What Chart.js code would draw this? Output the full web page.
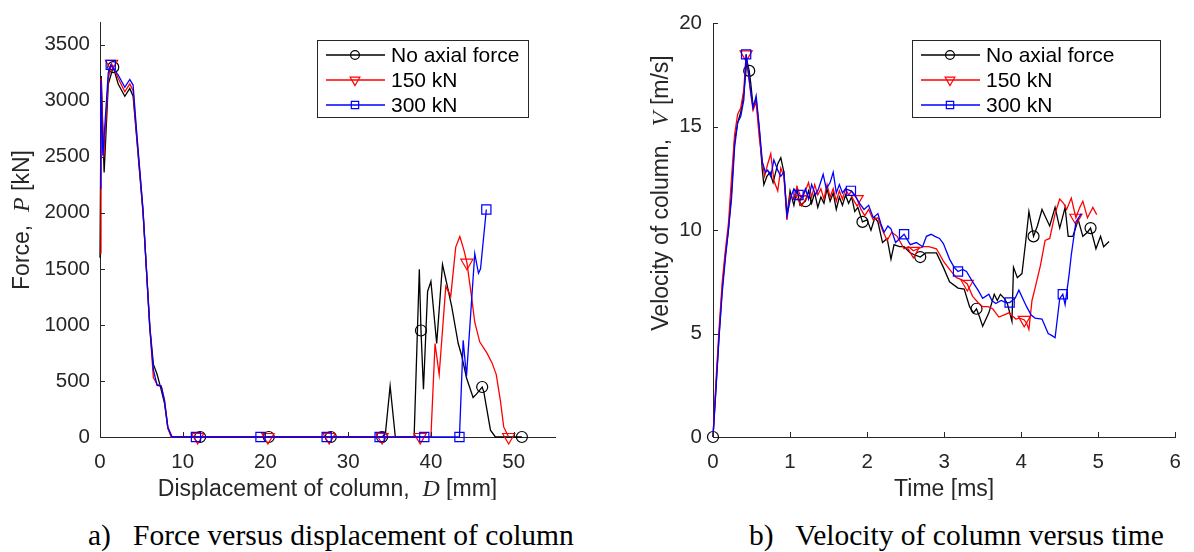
<!DOCTYPE html>
<html>
<head>
<meta charset="utf-8">
<script src="https://cdn.jsdelivr.net/npm/chart.js"></script>
<style>
  body { margin: 0; background: #fff; width: 1194px; height: 552px; position: relative; overflow: hidden; }
  #forceChart { position: absolute; left: 0; top: 0; }
  #velChart { position: absolute; left: 600px; top: 0; }
  .cap { position: absolute; top: 517px; font-family: "Liberation Serif", "Times New Roman", serif; font-size: 29.5px; line-height: 36px; white-space: pre; color: #000; }
</style>
</head>
<body>
<canvas id="forceChart" width="570" height="500"></canvas>
<canvas id="velChart" width="594" height="500"></canvas>
<div class="cap" style="left:88px">a)   Force versus displacement of column</div>
<div class="cap" style="left:749px">b)   Velocity of column versus time</div>
<script>
// ---- a) force vs displacement ----
const seriesNames = ["No axial force", "150 kN", "300 kN"];
const dispTicks = [0, 10, 20, 30, 40, 50];
const forceTicks = [0, 500, 1000, 1500, 2000, 2500, 3000, 3500];

const dispBlack = [0, 0.15, 0.5, 1.0, 1.6, 2.2, 3.0, 3.6, 4.0, 4.4, 5.2, 6.05, 6.45, 6.9, 7.3, 7.8, 8.2, 8.7, 12.1, 20.4, 27.9, 34.1, 34.5, 35.07, 35.7, 37.97, 38.6, 38.8, 39.1, 39.6, 40.0, 40.7, 41.4, 41.9, 42.5, 43.3, 43.7, 44.3, 45.1, 45.5, 46.2, 46.4, 47.2, 47.8, 51.0];
const forceBlack = [1600, 3220, 2360, 3150, 3300, 3150, 3040, 3110, 3040, 2700, 2000, 965, 650, 560, 450, 300, 80, 0, 0, 0, 0, 0, 30, 455, 0, 0, 1496, 950, 426, 1300, 1388, 834, 1540, 1374, 1170, 834, 732, 528, 353, 382, 446, 400, 61, 0, 0];
const markDispBlack = [1.6, 12.1, 20.4, 27.9, 34.1, 38.8, 46.2, 51.0];

const dispRed = [0, 0.12, 0.45, 1.0, 1.4, 2.2, 3.0, 3.6, 4.0, 4.4, 5.2, 6.0, 6.45, 6.9, 7.4, 7.8, 8.2, 8.6, 11.8, 20.3, 27.7, 34.1, 38.7, 40.0, 40.5, 41.0, 41.8, 42.4, 43.0, 43.5, 44.0, 44.35, 44.9, 45.3, 45.9, 46.8, 47.4, 47.9, 48.4, 48.8, 49.4];
const forceRed = [1640, 3200, 2490, 3200, 3330, 3200, 3080, 3150, 3090, 2720, 2020, 1000, 530, 470, 455, 330, 80, 0, 0, 0, 0, 0, 0, 0, 834, 557, 1344, 1257, 1694, 1788, 1665, 1555, 1257, 1024, 849, 746, 659, 557, 324, 90, 0];
const markDispRed = [1.4, 11.8, 20.3, 27.7, 34.1, 38.7, 44.35, 49.4];

const dispBlue = [0, 0.1, 0.35, 1.0, 1.3, 2.2, 3.0, 3.6, 4.0, 4.4, 5.2, 6.0, 6.45, 6.9, 7.4, 7.8, 8.2, 8.7, 11.6, 19.4, 27.4, 33.8, 39.2, 43.45, 43.9, 44.3, 45.3, 45.75, 46.0, 46.7];
const forceBlue = [2220, 3180, 2510, 3250, 3320, 3230, 3120, 3190, 3140, 2750, 2030, 990, 600, 460, 455, 320, 90, 0, 0, 0, 0, 0, 0, 0, 863, 540, 1636, 1461, 1500, 2030];
const markDispBlue = [1.3, 11.6, 19.4, 27.4, 33.8, 39.2, 43.45, 46.7];

// ---- b) velocity vs time ----
const timeTicks = [0, 1, 2, 3, 4, 5, 6];
const velTicks = [0, 5, 10, 15, 20];

const timeBlack = [0, 0.04, 0.08, 0.12, 0.16, 0.2, 0.24, 0.28, 0.32, 0.36,
  0.4, 0.44, 0.47, 0.49, 0.52, 0.56, 0.6, 0.64, 0.66, 0.7,
  0.74, 0.78, 0.84, 0.88, 0.92, 0.96, 1.0, 1.05, 1.09, 1.13,
  1.2, 1.24, 1.28, 1.32, 1.36, 1.4, 1.44, 1.48, 1.52, 1.56,
  1.6, 1.64, 1.68, 1.72, 1.76, 1.8, 1.84, 1.88, 1.94, 2.0,
  2.05, 2.1, 2.14, 2.2, 2.26, 2.31, 2.35, 2.42, 2.48, 2.56,
  2.62, 2.69, 2.76, 2.83, 2.9, 2.99, 3.07, 3.18, 3.26, 3.33,
  3.38, 3.42, 3.46, 3.5, 3.58, 3.65, 3.69, 3.73, 3.78, 3.82,
  3.88, 3.9, 3.95, 4.01, 4.06, 4.1, 4.16, 4.21, 4.27, 4.32,
  4.37, 4.44, 4.5, 4.57, 4.61, 4.67, 4.74, 4.8, 4.86, 4.9,
  4.97, 5.03, 5.07, 5.14];
const velBlack = [0, 2.5, 5.0, 7.2, 8.8, 10.0, 11.8, 14.3, 15.2, 15.7,
  16.6, 18.2, 17.7, 17.1, 16.0, 16.3, 14.9, 12.9, 12.2, 12.6,
  12.8, 12.3, 13.2, 13.5, 12.8, 10.7, 11.9, 11.2, 12.0, 11.2,
  11.4, 11.9, 11.3, 11.8, 11.1, 11.6, 11.3, 12.0, 11.4, 11.8,
  11.0, 11.6, 11.2, 11.7, 11.3, 11.6, 10.9, 11.1, 10.4, 10.5,
  10.0, 10.6, 10.4, 9.4, 9.6, 8.6, 9.3, 9.2, 9.2, 8.9,
  8.8, 8.7, 8.9, 8.9, 8.9, 8.2, 7.5, 7.2, 7.15, 6.3,
  6.0, 6.2, 5.8, 5.35, 6.0, 6.9, 6.6, 6.9, 6.7, 6.45,
  5.6, 8.2, 7.7, 7.9, 9.5, 10.9, 9.7, 10.2, 11.0, 10.6,
  10.2, 11.1, 10.1, 11.1, 9.7, 9.7, 10.5, 9.7, 9.9, 10.1,
  9.1, 9.7, 9.2, 9.45];
const markTimeBlack = [0, 0.47, 1.2, 1.94, 2.69, 3.42, 4.16, 4.9];

const timeRed = [0, 0.04, 0.08, 0.12, 0.16, 0.2, 0.24, 0.28, 0.32, 0.36,
  0.4, 0.43, 0.46, 0.49, 0.52, 0.56, 0.6, 0.64, 0.67, 0.71,
  0.75, 0.79, 0.84, 0.88, 0.92, 0.96, 1.0, 1.05, 1.09, 1.15,
  1.2, 1.24, 1.28, 1.32, 1.36, 1.4, 1.44, 1.48, 1.52, 1.56,
  1.6, 1.64, 1.68, 1.72, 1.76, 1.8, 1.87, 1.92, 1.97, 2.02,
  2.08, 2.14, 2.2, 2.26, 2.32, 2.39, 2.48, 2.54, 2.6, 2.66,
  2.73, 2.8, 2.9, 2.99, 3.07, 3.16, 3.23, 3.3, 3.37, 3.44,
  3.5, 3.57, 3.63, 3.71, 3.78, 3.84, 3.93, 3.98, 4.04, 4.07,
  4.1, 4.14, 4.18, 4.25, 4.31, 4.37, 4.44, 4.5, 4.55, 4.59,
  4.65, 4.71, 4.76, 4.8, 4.86, 4.93, 4.98];
const velRed = [0, 2.8, 5.3, 7.5, 9.0, 10.3, 12.5, 14.6, 15.6, 15.9,
  16.8, 18.5, 17.5, 16.6, 15.8, 16.2, 14.5, 13.3, 12.6, 13.2,
  13.7, 12.4, 11.9, 13.0, 12.6, 10.5, 11.7, 11.5, 12.1, 11.5,
  11.9, 12.3, 11.6, 12.2, 11.7, 12.0, 11.5, 12.2, 11.6, 12.0,
  11.4, 11.9, 11.5, 12.0, 11.7, 11.9, 11.5, 11.0, 10.7, 11.0,
  10.5, 10.6, 10.0, 9.5, 9.9, 9.7, 9.1, 9.2, 9.0, 9.1,
  9.2, 9.2, 9.1, 8.5, 8.1, 7.7, 7.6, 7.4, 6.8, 6.5,
  6.3, 6.3, 6.2, 5.8, 5.9, 6.0, 5.7, 5.75, 5.66, 5.5,
  5.2, 6.6, 7.2, 8.3, 9.5, 9.6, 10.8, 11.5, 11.3, 11.0,
  11.55, 10.6, 11.1, 11.4, 10.6, 11.1, 10.75];
const markTimeRed = [0.43, 1.15, 1.87, 2.6, 3.3, 4.04, 4.71];

const timeBlue = [0, 0.04, 0.08, 0.12, 0.16, 0.2, 0.24, 0.28, 0.32, 0.36,
  0.4, 0.43, 0.46, 0.49, 0.52, 0.56, 0.6, 0.64, 0.68, 0.71,
  0.75, 0.79, 0.84, 0.88, 0.92, 0.96, 1.01, 1.05, 1.11, 1.16,
  1.2, 1.24, 1.28, 1.33, 1.37, 1.43, 1.47, 1.52, 1.56, 1.6,
  1.64, 1.68, 1.72, 1.79, 1.84, 1.9, 1.96, 2.02, 2.08, 2.14,
  2.18, 2.22, 2.27, 2.31, 2.37, 2.48, 2.56, 2.64, 2.72, 2.77,
  2.83, 2.88, 2.94, 2.99, 3.07, 3.13, 3.18, 3.24, 3.29, 3.37,
  3.44, 3.5, 3.58, 3.62, 3.67, 3.74, 3.8, 3.85, 3.92, 3.97,
  4.02, 4.07, 4.13, 4.18, 4.27, 4.35, 4.4, 4.44, 4.5, 4.54,
  4.57, 4.62, 4.65, 4.71, 4.78];
const velBlue = [0, 2.4, 4.9, 7.0, 8.6, 10.0, 11.5, 14.0, 15.2, 15.5,
  16.3, 18.5, 17.6, 16.7, 15.9, 16.5, 15.0, 13.3, 12.8, 12.9,
  12.6, 13.4, 12.9, 12.6, 12.8, 10.7, 11.6, 12.0, 11.7, 11.6,
  12.0, 11.5, 12.2, 11.7, 12.0, 12.7, 12.0, 12.3, 12.8, 11.8,
  12.2, 11.8, 12.0, 11.9, 11.7, 11.3, 11.0, 11.2, 10.6, 10.8,
  10.3, 9.9, 10.2, 10.06, 9.4, 9.8, 9.3, 9.4, 9.2, 9.7,
  9.8, 9.7, 9.6, 9.35, 8.6, 8.2, 8.0, 8.1, 8.0, 7.5,
  7.1, 6.7, 6.9, 6.6, 6.45, 6.6, 6.5, 6.5, 6.7, 7.1,
  6.7, 6.3, 5.9, 5.75, 5.7, 5.0, 4.9, 4.8, 6.7, 6.9,
  6.4, 7.8, 8.8, 10.4, 10.8];
const markTimeBlue = [0.43, 1.11, 1.79, 2.48, 3.18, 3.85, 4.54];

// ---- look ----
const AXIS = "#262626";
const SANS = '"Liberation Sans", Arial, Helvetica, sans-serif';
const SERIF = '"Liberation Serif", "Times New Roman", serif';
const styles = [
  { color: "#000000", pointStyle: "circle", r: 5.5, rot: 0 },
  { color: "#ff0000", pointStyle: "triangle", r: 7, rot: 180 },
  { color: "#0000ff", pointStyle: "rect", r: 6.5, rot: 0 },
];

function makeSet(i, xs, ys, marks) {
  const s = styles[i];
  return {
    label: seriesNames[i],
    data: xs.map((x, k) => ({ x: x, y: ys[k] })),
    borderColor: s.color,
    borderWidth: 1.3,
    pointStyle: s.pointStyle,
    pointRotation: s.rot,
    pointRadius: xs.map((x) => (marks.includes(x) ? s.r : 0)),
    pointBorderColor: s.color,
    pointBackgroundColor: "rgba(0,0,0,0)",
    pointBorderWidth: 1.2,
    tension: 0,
    fill: false,
    clip: false,
    order: 3 - i, // blue drawn on top
  };
}

// draw a string made of pieces with different fonts, centred on (cx, cy)
function drawRich(ctx, parts, cx, cy) {
  let total = 0;
  parts.forEach((p) => {
    ctx.font = p.font;
    p.w = ctx.measureText(p.text).width;
    total += p.w;
  });
  let x = cx - total / 2;
  ctx.textAlign = "left";
  ctx.textBaseline = "middle";
  parts.forEach((p) => {
    ctx.font = p.font;
    ctx.fillText(p.text, x, cy);
    x += p.w;
  });
}

function marker(ctx, s, x, y, r) {
  ctx.beginPath();
  if (s.pointStyle === "circle") {
    ctx.arc(x, y, r, 0, Math.PI * 2);
  } else if (s.pointStyle === "triangle") {
    let a = Math.PI;
    ctx.moveTo(x + Math.sin(a) * r, y - Math.cos(a) * r);
    a += (2 * Math.PI) / 3;
    ctx.lineTo(x + Math.sin(a) * r, y - Math.cos(a) * r);
    a += (2 * Math.PI) / 3;
    ctx.lineTo(x + Math.sin(a) * r, y - Math.cos(a) * r);
    ctx.closePath();
  } else {
    const h = r * Math.SQRT1_2;
    ctx.rect(x - h, y - h, 2 * h, 2 * h);
  }
  ctx.stroke();
}

// inward ticks, axis titles with italic symbols, legend box
const deco = {
  id: "deco",
  afterDraw(chart, args, o) {
    const ctx = chart.ctx;
    const area = chart.chartArea;
    const xs = chart.scales.x;
    const ys = chart.scales.y;
    ctx.save();
    ctx.strokeStyle = AXIS;
    ctx.lineWidth = 1;
    ctx.beginPath();
    xs.ticks.forEach((t) => {
      const px = Math.round(xs.getPixelForValue(t.value)) + 0.5;
      ctx.moveTo(px, area.bottom);
      ctx.lineTo(px, area.bottom - 5);
    });
    ys.ticks.forEach((t) => {
      const py = Math.round(ys.getPixelForValue(t.value)) + 0.5;
      ctx.moveTo(area.left, py);
      ctx.lineTo(area.left + 5, py);
    });
    ctx.stroke();

    ctx.fillStyle = AXIS;
    drawRich(ctx, o.xTitle, (area.left + area.right) / 2, o.xTitleY);
    ctx.save();
    ctx.translate(o.yTitleX, o.yTitleY);
    ctx.rotate(-Math.PI / 2);
    drawRich(ctx, o.yTitle, 0, 0);
    ctx.restore();

    // legend
    const L = o.legend;
    ctx.fillStyle = "#fff";
    ctx.fillRect(L.x, L.y, L.w, L.h);
    ctx.strokeStyle = AXIS;
    ctx.lineWidth = 1;
    ctx.strokeRect(L.x + 0.5, L.y + 0.5, L.w, L.h);
    chart.data.datasets.forEach((ds, i) => {
      const s = styles[i];
      const y = L.y + L.row0 + i * L.rowStep;
      ctx.strokeStyle = s.color;
      ctx.lineWidth = 1.3;
      ctx.beginPath();
      ctx.moveTo(L.x + 9, y);
      ctx.lineTo(L.x + 68, y);
      ctx.stroke();
      ctx.lineWidth = 1.2;
      marker(ctx, s, L.x + 38, y, s.r * 0.8);
      ctx.fillStyle = "#000";
      ctx.font = "21px " + SANS;
      ctx.textAlign = "left";
      ctx.textBaseline = "middle";
      ctx.fillText(ds.label, L.x + 74, y + 1);
    });
    ctx.restore();
  },
};

function axisOpts(min, max, tickVals, padding, fit) {
  return {
    type: "linear",
    min: min,
    max: max,
    grid: { drawOnChartArea: false, drawTicks: false },
    border: { display: true, color: AXIS, width: 1 },
    afterBuildTicks: (scale) => {
      scale.ticks = tickVals.map((v) => ({ value: v }));
    },
    ticks: {
      color: AXIS,
      font: { family: SANS, size: 20.5 },
      padding: padding,
      maxRotation: 0,
      autoSkip: false,
      callback: (v) => String(v),
    },
    afterFit: fit,
  };
}

const sansFont = "23px " + SANS;
const italFont = "italic 24px " + SERIF;

new Chart(document.getElementById("forceChart"), {
  type: "line",
  data: {
    datasets: [
      makeSet(0, dispBlack, forceBlack, markDispBlack),
      makeSet(1, dispRed, forceRed, markDispRed),
      makeSet(2, dispBlue, forceBlue, markDispBlue),
    ],
  },
  options: {
    responsive: false,
    animation: false,
    devicePixelRatio: 1,
    layout: { padding: { top: 12, right: 15, bottom: 0, left: 0 } },
    scales: {
      x: axisOpts(0, 55, dispTicks, 13, (s) => { s.height = 63; }),
      y: axisOpts(0, 3700, forceTicks, 10, (s) => { s.width = 100; }),
    },
    plugins: {
      legend: { display: false },
      tooltip: { enabled: false },
      deco: {
        xTitle: [
          { text: "Displacement of column,  ", font: sansFont },
          { text: "D", font: italFont },
          { text: " [mm]", font: sansFont },
        ],
        xTitleY: 490,
        yTitle: [
          { text: "Force,  ", font: sansFont },
          { text: "P", font: italFont },
          { text: " [kN]", font: sansFont },
        ],
        yTitleX: 23,
        yTitleY: 220,
        legend: { x: 317, y: 40, w: 211, h: 77, row0: 15, rowStep: 25 },
      },
    },
  },
  plugins: [deco],
});

new Chart(document.getElementById("velChart"), {
  type: "line",
  data: {
    datasets: [
      makeSet(0, timeBlack, velBlack, markTimeBlack),
      makeSet(1, timeRed, velRed, markTimeRed),
      makeSet(2, timeBlue, velBlue, markTimeBlue),
    ],
  },
  options: {
    responsive: false,
    animation: false,
    devicePixelRatio: 1,
    layout: { padding: { top: 12, right: 12, bottom: 0, left: 0 } },
    scales: {
      x: axisOpts(0, 6, timeTicks, 13, (s) => { s.height = 63; }),
      y: axisOpts(0, 20, velTicks, 11, (s) => { s.width = 113; }),
    },
    plugins: {
      legend: { display: false },
      tooltip: { enabled: false },
      deco: {
        xTitle: [{ text: "Time [ms]", font: sansFont }],
        xTitleY: 490,
        yTitle: [
          { text: "Velocity of column,  ", font: sansFont },
          { text: "V", font: italFont },
          { text: " [m/s]", font: sansFont },
        ],
        yTitleX: 62,
        yTitleY: 193,
        legend: { x: 312, y: 40, w: 248, h: 77, row0: 15, rowStep: 25 },
      },
    },
  },
  plugins: [deco],
});
</script>
</body>
</html>
